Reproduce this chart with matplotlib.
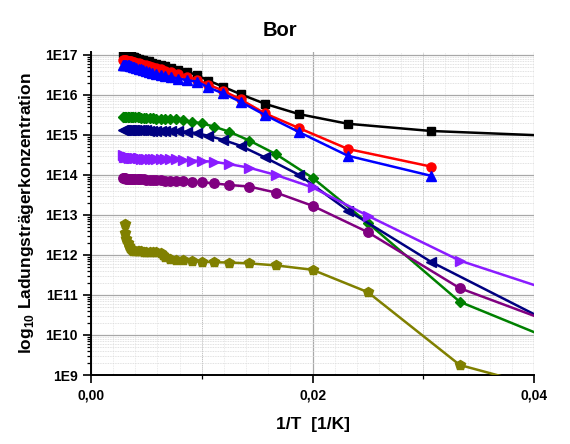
import numpy as np
import matplotlib
matplotlib.use("Agg")
import matplotlib.pyplot as plt
from matplotlib.ticker import FixedLocator, FuncFormatter, LogLocator, NullFormatter

plt.rcParams['font.family'] = ['Liberation Sans', 'DejaVu Sans']
plt.rcParams['mathtext.fontset'] = 'custom'
plt.rcParams['mathtext.rm'] = 'Liberation Sans'
plt.rcParams['mathtext.bf'] = 'Liberation Sans:bold'

# ---- data: x = 1/T [1/K], y = log10 of carrier concentration ----
x_a = [0.0029, 0.0030, 0.0031, 0.0032, 0.0033, 0.0034, 0.0035, 0.0036, 0.0038, 0.0039,
       0.0041, 0.0043, 0.0045, 0.0047, 0.0050, 0.0052, 0.0055, 0.0059, 0.0063, 0.0067,
       0.0072, 0.0079, 0.0087, 0.0096, 0.0106, 0.0119, 0.0135, 0.0157, 0.0188, 0.0232,
       0.0307, 0.0442]
x_b = [0.0029, 0.0030, 0.0031, 0.0032, 0.0033, 0.0034, 0.0036, 0.0037, 0.0038, 0.0040,
       0.0042, 0.0043, 0.0045, 0.0048, 0.0050, 0.0053, 0.0056, 0.0059, 0.0063, 0.0067,
       0.0071, 0.0077, 0.0083, 0.0091, 0.0100, 0.0111, 0.0125, 0.0143, 0.0167, 0.0200,
       0.0250, 0.0333, 0.0500]
x_olive = [0.0031, 0.0031, 0.0032, 0.0033, 0.0034, 0.0035, 0.0036, 0.0037, 0.0038, 0.0040,
           0.0042, 0.0043, 0.0045, 0.0048, 0.0050, 0.0053, 0.0056, 0.0059, 0.0063, 0.0065,
           0.0067, 0.0071, 0.0077, 0.0083, 0.0091, 0.0100, 0.0111, 0.0125, 0.0143, 0.0167,
           0.0200, 0.0250, 0.0333, 0.0500]

log_black = [17.04, 17.04, 17.03, 17.02, 17.01, 17.00, 16.99, 16.98, 16.96, 16.94,
             16.92, 16.90, 16.88, 16.87, 16.86, 16.84, 16.81, 16.78, 16.75, 16.72,
             16.68, 16.63, 16.58, 16.49, 16.36, 16.21, 16.02, 15.78, 15.52, 15.28,
             15.10, 14.95]
log_red = [16.88, 16.88, 16.87, 16.87, 16.86, 16.86, 16.85, 16.84, 16.83, 16.82,
           16.81, 16.79, 16.78, 16.76, 16.74, 16.72, 16.70, 16.67, 16.64, 16.61,
           16.57, 16.52, 16.46, 16.38, 16.26, 16.11, 15.89, 15.54, 15.17, 14.65,
           14.21]
log_blue = [16.76, 16.76, 16.75, 16.75, 16.74, 16.74, 16.73, 16.72, 16.71, 16.70,
            16.68, 16.66, 16.64, 16.62, 16.60, 16.58, 16.56, 16.53, 16.50, 16.48,
            16.45, 16.41, 16.37, 16.33, 16.19, 16.04, 15.83, 15.50, 15.07, 14.48,
            13.98]
log_navy = [15.13, 15.13, 15.13, 15.13, 15.13, 15.13, 15.13, 15.13, 15.13, 15.12,
            15.12, 15.12, 15.12, 15.12, 15.12, 15.11, 15.11, 15.11, 15.11, 15.10,
            15.10, 15.09, 15.08, 15.04, 14.98, 14.88, 14.73, 14.44, 14.00, 13.11,
            11.83, 9.93]
log_green = [15.46, 15.46, 15.46, 15.46, 15.46, 15.45, 15.45, 15.45, 15.45, 15.44,
             15.44, 15.44, 15.43, 15.43, 15.43, 15.42, 15.42, 15.41, 15.41, 15.40,
             15.40, 15.39, 15.38, 15.33, 15.29, 15.21, 15.08, 14.86, 14.52, 13.93,
             12.80, 10.83, 8.94]
log_violet = [14.49, 14.46, 14.45, 14.44, 14.44, 14.43, 14.43, 14.43, 14.42, 14.42,
              14.42, 14.42, 14.41, 14.41, 14.41, 14.41, 14.40, 14.40, 14.40, 14.40,
              14.39, 14.39, 14.38, 14.36, 14.35, 14.33, 14.27, 14.18, 14.00, 13.69,
              12.98, 11.86, 10.34]
log_purple = [13.92, 13.92, 13.92, 13.91, 13.91, 13.91, 13.91, 13.90, 13.90, 13.90,
              13.90, 13.89, 13.89, 13.89, 13.88, 13.88, 13.88, 13.87, 13.87, 13.86,
              13.86, 13.85, 13.85, 13.83, 13.82, 13.79, 13.75, 13.71, 13.56, 13.23,
              12.57, 11.17, 9.45]
log_olive = [12.77, 12.55, 12.40, 12.29, 12.22, 12.17, 12.14, 12.12, 12.11, 12.10,
             12.10, 12.09, 12.09, 12.08, 12.08, 12.08, 12.07, 12.07, 12.06, 12.00,
             11.95, 11.91, 11.88, 11.88, 11.85, 11.83, 11.82, 11.81, 11.79, 11.74,
             11.63, 11.07, 9.25, 8.00]

series = [
    (x_a, log_black, '#000000', 's', 6.3),
    (x_a, log_red, '#ff0000', 'o', 6.5),
    (x_a, log_blue, '#0000ff', '^', 6.8),
    (x_b, log_green, '#008000', 'D', 5.3),
    (x_a, log_navy, '#000080', '<', 6.8),
    (x_b, log_violet, '#8a1cff', '>', 6.8),
    (x_b, log_purple, '#800080', 'o', 6.8),
    (x_olive, log_olive, '#808000', 'p', 7.2),
]

fig = plt.figure(figsize=(5.70, 4.44), dpi=100)
ax = fig.add_axes([91/570, 1-375/444, (534-91)/570, (375-51.8)/444])

for xs, ys, col, mk, ms in series:
    ax.plot(xs[:len(ys)], np.power(10.0, ys), color=col, lw=1.8, marker=mk,
            ms=ms, mec=col, mfc=col, clip_on=True, zorder=3)

ax.set_yscale('log')
ax.set_xlim(0, 0.04)
ax.set_ylim(1e9, 1.2e17)

# fine background mesh
for xv in np.arange(0.002, 0.04, 0.002):
    ax.axvline(xv, color='#e4e4e4', lw=0.6, ls=(0, (1, 1)), zorder=0)
ax.xaxis.set_major_locator(FixedLocator([0.0, 0.02, 0.04]))
ax.xaxis.set_minor_locator(FixedLocator([0.01, 0.03]))
ax.xaxis.set_major_formatter(FuncFormatter(lambda v, p: f"{v:.2f}".replace('.', ',')))
ax.xaxis.set_minor_formatter(NullFormatter())
ax.yaxis.set_major_locator(LogLocator(base=10, numticks=20))
ax.yaxis.set_minor_locator(LogLocator(base=10, subs=np.arange(2, 10), numticks=20))
ax.yaxis.set_major_formatter(FuncFormatter(lambda v, p: f"1E{int(round(np.log10(v)))}"))
ax.yaxis.set_minor_formatter(NullFormatter())

ax.grid(True, which='major', color='#a8a8a8', lw=0.9, zorder=0)
ax.grid(True, which='minor', axis='y', color='#d8d8d8', lw=0.6, ls=(0, (1, 1)), zorder=0)
ax.grid(True, which='minor', axis='x', color='#c0c0c0', lw=0.7, ls=(0, (1, 1)), zorder=0)

for s in ['top', 'right']:
    ax.spines[s].set_visible(False)
for s in ['left', 'bottom']:
    ax.spines[s].set_linewidth(1.4)
    ax.spines[s].set_color('black')

ax.tick_params(axis='both', which='major', direction='out', length=6, width=1.2,
               labelsize=10)
ax.tick_params(axis='both', which='minor', direction='out', length=3, width=0.9)
for lab in ax.get_xticklabels() + ax.get_yticklabels():
    lab.set_fontweight('bold')

ax.set_xlabel("1/T  [1/K]", fontsize=12.5, fontweight='bold', labelpad=11)
ax.set_ylabel(r"log$_{\mathbf{10}}$ Ladungsträgerkonzentration", fontsize=12.5,
              fontweight='bold', labelpad=7)
fig.text(280/570, 1-30/444, "Bor", ha='center', va='center', fontsize=14.5,
         fontweight='bold')

fig.savefig("out.png", dpi=100)
